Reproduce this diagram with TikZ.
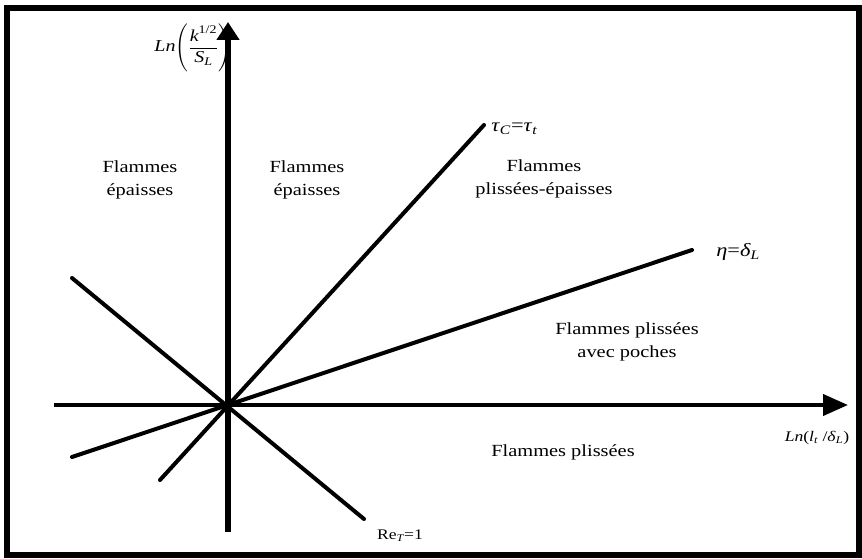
\documentclass[tikz,border=0pt]{standalone}
\usepackage{amsmath}
\usepackage{fontspec}
\setmainfont{Liberation Serif}[FakeStretch=1.2]
\usetikzlibrary{arrows.meta}
\begin{document}
\begin{tikzpicture}[x=0.75pt,y=-0.75pt,
  frame/.style={line width=4.5pt},
  vaxis/.style={line width=4.5pt,-{Triangle[length=13.5pt,width=16.5pt]}},
  haxis/.style={line width=3pt,-{Triangle[length=18.75pt,width=15.75pt]}},
  regline/.style={line width=3pt,line cap=round},
  region/.style={font=\fontsize{12.75pt}{17.25pt}\selectfont,align=center,inner sep=0pt},
  lab/.style={font=\fontsize{11pt}{13pt}\selectfont,inner sep=0pt},
  glab/.style={font=\fontsize{14pt}{16pt}\selectfont,inner sep=0pt},
  ylab/.style={font=\fontsize{12.5pt}{15pt}\selectfont,inner sep=0pt}]
\useasboundingbox (0,0) rectangle (862,559);
\draw[frame] (7,8) rectangle (859,555);
% axes
\coordinate (O) at (228,405);
\coordinate (vb) at (228,532);
\coordinate (vt) at (228,22);
\coordinate (hl) at (54,405);
\coordinate (hr) at (848,405);
\draw[haxis] (hl) -- (hr);
\draw[vaxis] (vb) -- (vt);
% regime lines
\coordinate (t1) at (160,480);
\coordinate (t2) at (484,125);
\coordinate (e1) at (72,457);
\coordinate (e2) at (692,250);
\coordinate (r1) at (72,278);
\coordinate (r2) at (364,519);
\draw[regline] (t1) -- (t2);
\draw[regline] (e1) -- (e2);
\draw[regline] (r1) -- (r2);
% labels
\node[glab,anchor=west] (taul) at (491,129) {\textit{τ}$_{\textit{C}}$=\textit{τ}$_{\textit{t}}$};
\node[glab,anchor=west] (etal) at (716,252) {\textit{η}=\textit{δ}$_{\textit{L}}$};
\node[lab] (rel) at (400,536) {Re$_{\textit{T}}$=1};
\node[lab] (xl) at (817,438) {\textit{Ln}(\textit{l}$_{\textit{t}}$ /\textit{δ}$_{\textit{L}}$)};
\node[ylab] (yl) at (193,48) {\textit{Ln}$\left(\dfrac{\textit{k}^{\text{1/2}}}{\textit{S}_{\textit{L}}}\right)$};
% regions
\node[region] (r1t) at (140,180) {Flammes\\épaisses};
\node[region] (r2t) at (307,180) {Flammes\\épaisses};
\node[region] (r3t) at (544,179) {Flammes\\plissées-épaisses};
\node[region] (r4t) at (627,342) {Flammes plissées\\avec poches};
\node[region] (r5t) at (563,452) {Flammes plissées};
\end{tikzpicture}
\end{document}
